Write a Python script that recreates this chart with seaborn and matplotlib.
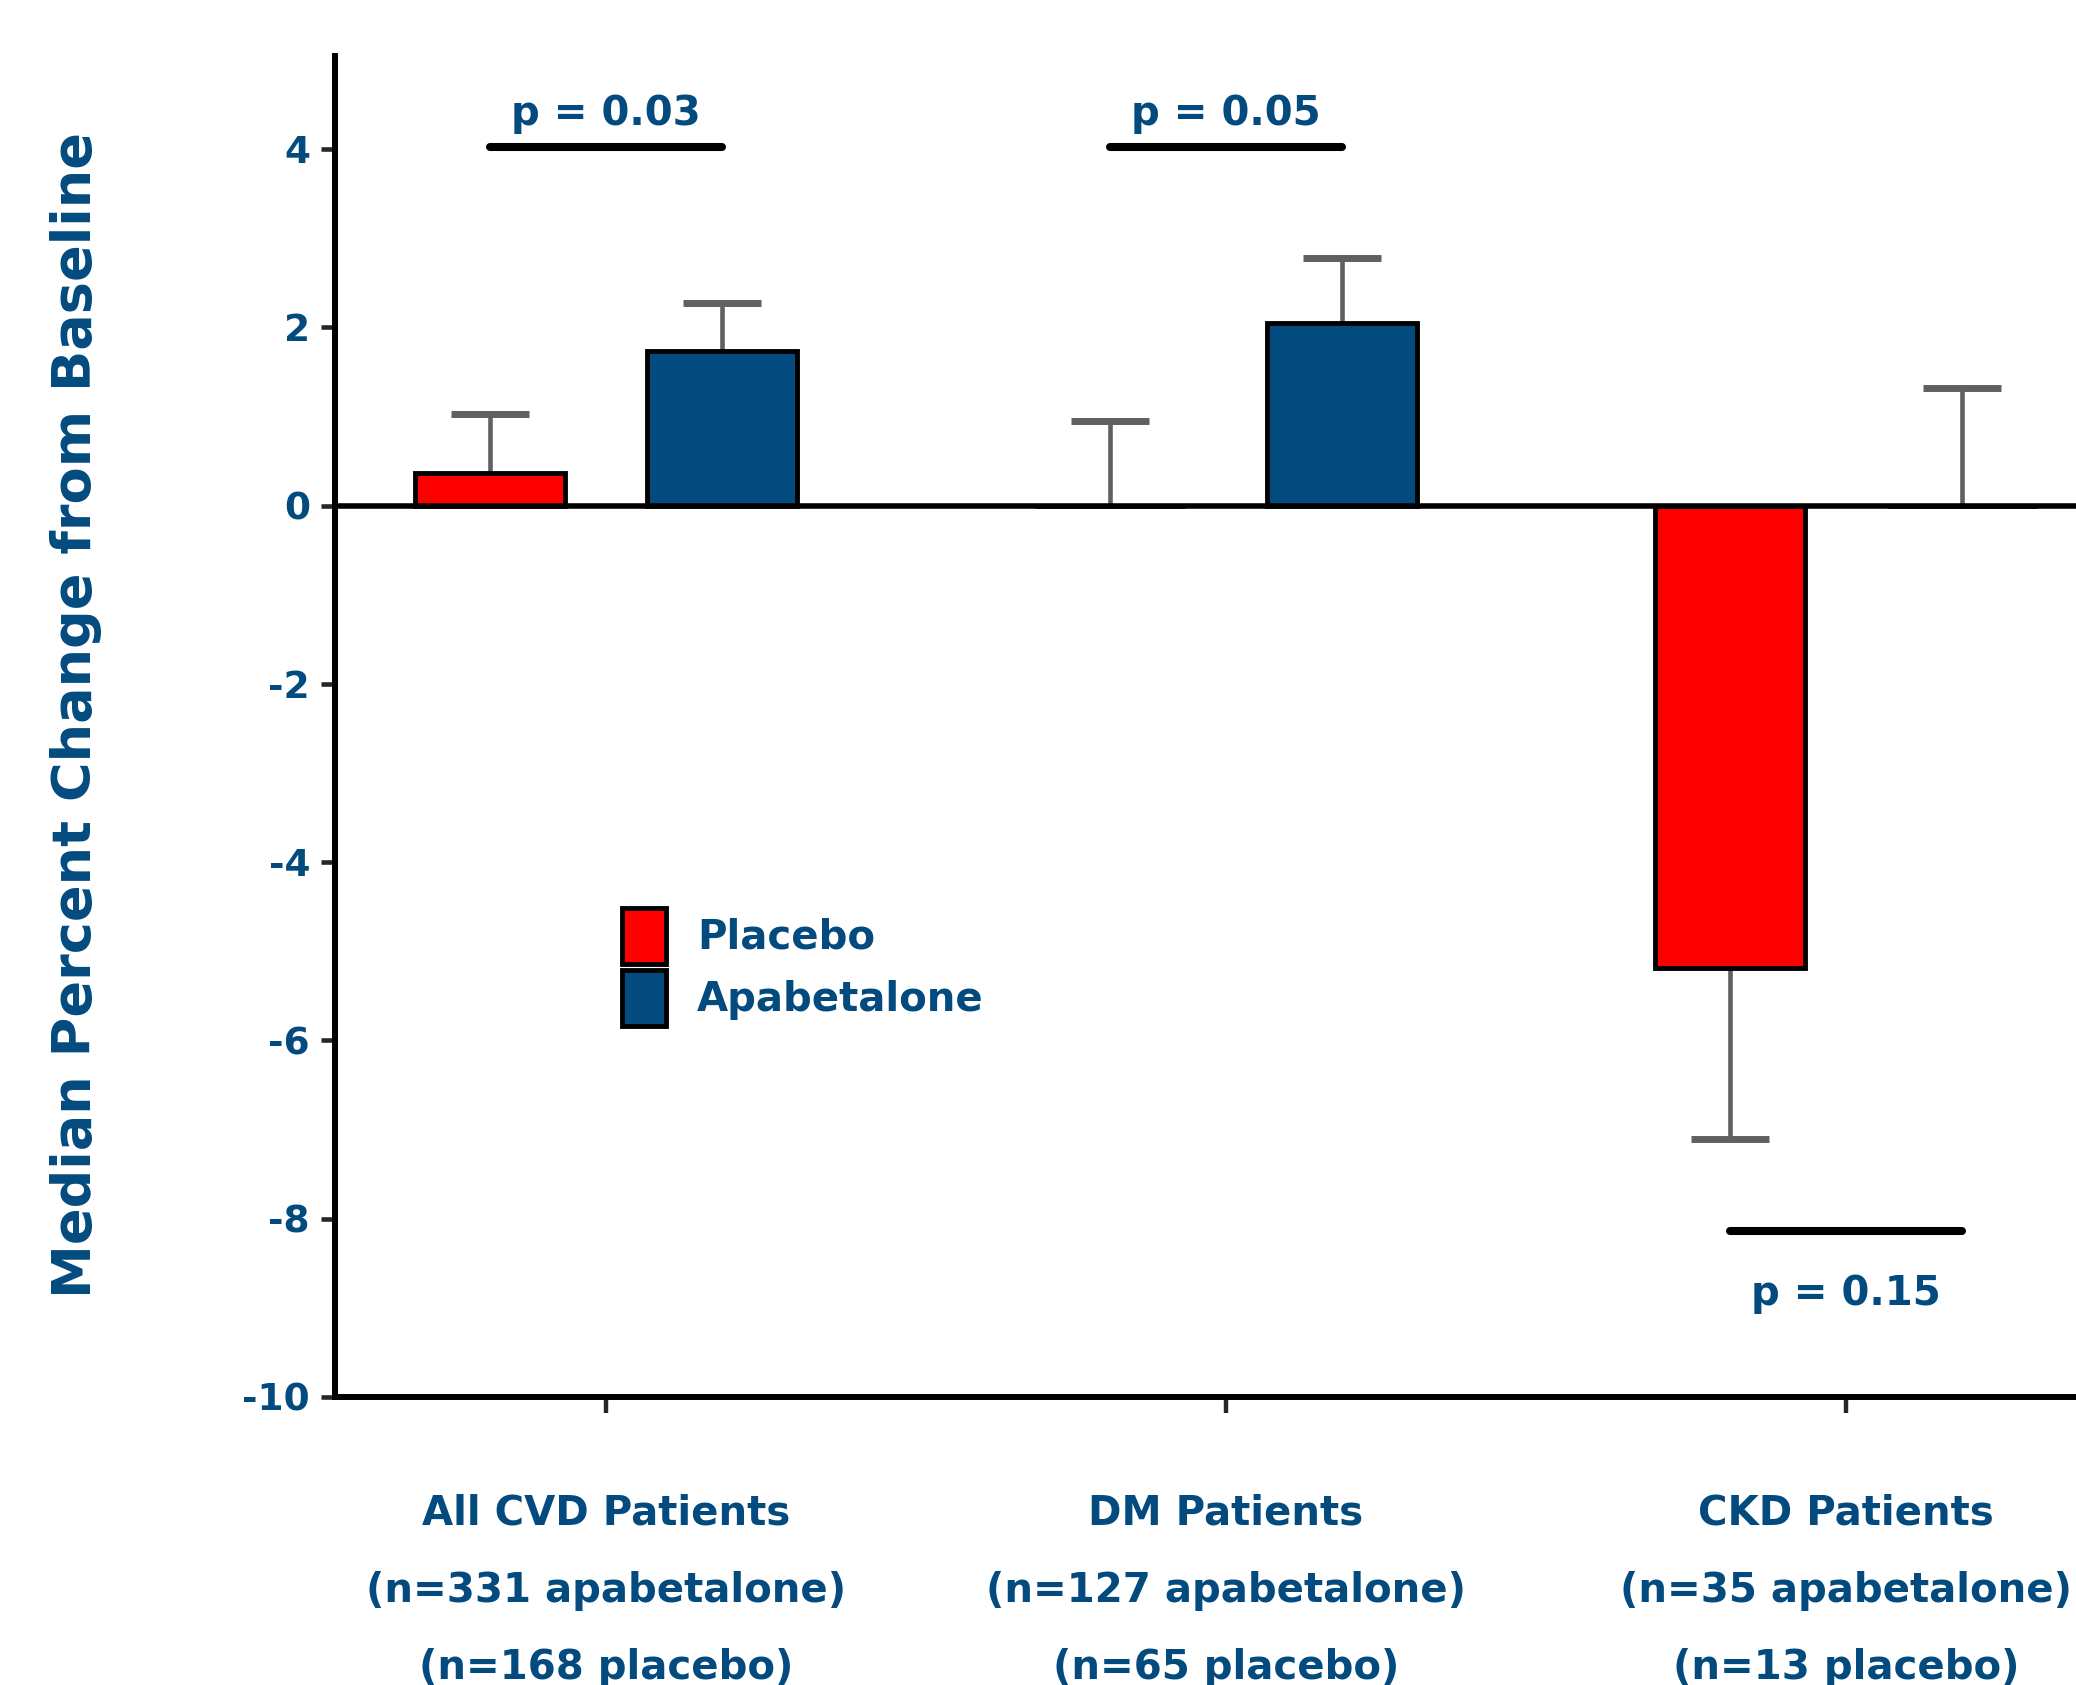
import numpy as np
import pandas as pd
import matplotlib
matplotlib.use("Agg")
import matplotlib.pyplot as plt
import seaborn as sns
from matplotlib.patches import Patch

# ---------------- data ----------------
categories = [
    "All CVD Patients\n(n=331 apabetalone)\n(n=168 placebo)",
    "DM Patients\n(n=127 apabetalone)\n(n=65 placebo)",
    "CKD Patients\n(n=35 apabetalone)\n(n=13 placebo)",
]
treatments = ["Placebo", "Apabetalone"]
placebo_values = [0.37, 0.0, -5.19]
apabetalone_values = [1.74, 2.05, 0.0]
placebo_err = [0.66, 0.95, 1.92]
apabetalone_err = [0.53, 0.73, 1.32]
p_labels = ["p = 0.03", "p = 0.05", "p = 0.15"]
p_line_y = [4.03, 4.03, -8.14]
p_text_y = [4.27, 4.27, -8.97]
y_ticks = [4, 2, 0, -2, -4, -6, -8, -10]
y_label = "Median Percent Change from Baseline"

# ---------------- style ----------------
RED = "#FF0000"
BLUE = "#034A7E"
TXT = "#034A7E"
GRAY = "#606060"

sns.set_style("white")
plt.rcParams["font.family"] = ["DejaVu Sans"]
plt.rcParams["font.weight"] = "bold"

df = pd.DataFrame({
    "group": categories * 2,
    "treatment": [treatments[0]] * 3 + [treatments[1]] * 3,
    "value": placebo_values + apabetalone_values,
})
errs = {treatments[0]: placebo_err, treatments[1]: apabetalone_err}

fig = plt.figure(figsize=(20.76, 16.85), dpi=100)
ax = fig.add_axes([0.1614, 0.171, 0.8386, 0.796])

sns.barplot(data=df, x="group", y="value", hue="treatment",
            order=categories, hue_order=treatments,
            palette=[RED, BLUE], saturation=1, width=0.748, gap=0.35,
            edgecolor="black", linewidth=3.5, errorbar=None,
            legend=False, ax=ax, zorder=3)

# error bars (one sided, away from zero) from the bar patches
centers = {}
bar_w = None
for p in ax.patches:
    cx = p.get_x() + p.get_width() / 2
    cat = int(round(cx))
    hue = treatments[0] if cx < cat else treatments[1]
    centers[(cat, hue)] = cx
    bar_w = p.get_width()

for (cat, hue), cx in centers.items():
    v = df[(df.group == categories[cat]) & (df.treatment == hue)]["value"].iloc[0]
    e = errs[hue][cat]
    end = v - e if v < 0 else v + e
    ax.vlines(cx, v, end, color=GRAY, lw=3.3, zorder=2)
    ax.hlines(end, cx - bar_w * 0.26, cx + bar_w * 0.26, color=GRAY, lw=5, zorder=2)

ax.axhline(0, color="black", lw=4, zorder=4)

# significance lines and p values
xt = np.arange(len(categories))
for i in range(len(categories)):
    x0 = centers[(i, treatments[0])]
    x1 = centers[(i, treatments[1])]
    ax.plot([x0, x1], [p_line_y[i], p_line_y[i]], color="black", lw=5.8,
            solid_capstyle="round", zorder=5)
    ax.text(xt[i], p_text_y[i], p_labels[i], ha="center", va="baseline",
            fontsize=29, fontweight="bold", color=TXT)

# axes
ax.set_xlim(-0.437, 2.371)
ax.set_ylim(-10, 5.05)
ax.set_yticks(y_ticks)
ax.set_yticklabels([str(t) for t in y_ticks])
ax.set_xticks(xt)
ax.set_xticklabels(categories)
for t in ax.get_xticklabels():
    t.set_linespacing(2.2)
ax.set_xlabel("")
ax.set_ylabel(y_label, fontsize=39, fontweight="bold", color=TXT)
ax.yaxis.set_label_coords(-0.1338, 0.5086)

for s in ["top", "right"]:
    ax.spines[s].set_visible(False)
for s in ["left", "bottom"]:
    ax.spines[s].set_linewidth(4.3)
    ax.spines[s].set_color("black")

ax.tick_params(axis="y", direction="out", length=10, width=3.3, pad=8,
               labelsize=27, labelcolor=TXT, left=True)
ax.tick_params(axis="x", direction="out", length=11.5, width=3.2, pad=58,
               labelsize=29, labelcolor=TXT, bottom=True)

# legend
handles = [Patch(facecolor=RED, edgecolor="black", linewidth=3.5),
           Patch(facecolor=BLUE, edgecolor="black", linewidth=3.5)]
ax.legend(handles, treatments, loc="upper left", bbox_to_anchor=(0.1648, 0.3647),
          frameon=False, borderpad=0, borderaxespad=0,
          handlelength=1.09, handleheight=1.76, labelspacing=0.15,
          handletextpad=0.77, labelcolor=TXT,
          prop={"size": 29, "weight": "bold"})

fig.savefig("out.png", dpi=100)
